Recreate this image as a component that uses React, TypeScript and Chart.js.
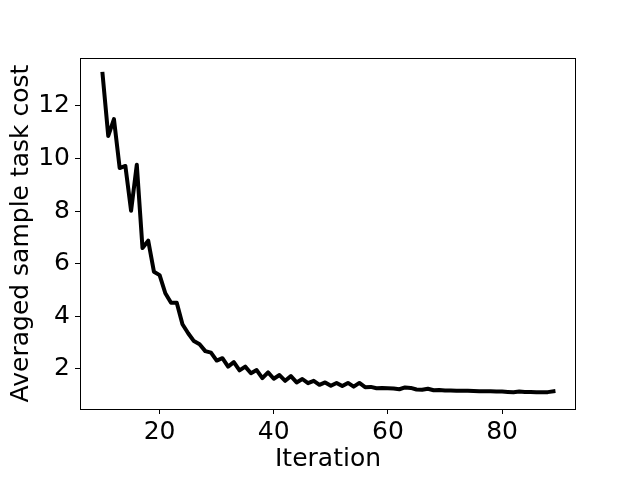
import React, { useEffect, useRef } from "react";
import { Chart, registerables } from "chart.js";

Chart.register(...registerables);

const iterations = [
  10, 11, 12, 13, 14, 15, 16, 17, 18, 19,
  20, 21, 22, 23, 24, 25, 26, 27, 28, 29,
  30, 31, 32, 33, 34, 35, 36, 37, 38, 39,
  40, 41, 42, 43, 44, 45, 46, 47, 48, 49,
  50, 51, 52, 53, 54, 55, 56, 57, 58, 59,
  60, 61, 62, 63, 64, 65, 66, 67, 68, 69,
  70, 71, 72, 73, 74, 75, 76, 77, 78, 79,
  80, 81, 82, 83, 84, 85, 86, 87, 88, 89,
];

const costs = [
  13.22, 10.86, 11.5, 9.64, 9.72, 8.02, 9.77, 6.6, 6.88, 5.7,
  5.57, 4.88, 4.52, 4.52, 3.7, 3.36, 3.06, 2.94, 2.68, 2.62,
  2.32, 2.41, 2.09, 2.26, 1.95, 2.09, 1.84, 1.96, 1.65, 1.87,
  1.63, 1.77, 1.55, 1.73, 1.49, 1.62, 1.46, 1.55, 1.4, 1.49,
  1.36, 1.47, 1.35, 1.47, 1.33, 1.47, 1.31, 1.32, 1.27, 1.28,
  1.27, 1.26, 1.23, 1.3, 1.28, 1.22, 1.21, 1.25, 1.19, 1.2,
  1.18, 1.18, 1.17, 1.17, 1.17, 1.16, 1.15, 1.15, 1.15, 1.14,
  1.14, 1.13, 1.12, 1.14, 1.13, 1.13, 1.12, 1.12, 1.12, 1.15,
];

const xTickValues = [20, 40, 60, 80];
const yTickValues = [2, 4, 6, 8, 10, 12];

const xLabel = "Iteration";
const yLabel = "Averaged sample task cost";

const FONT = "'DejaVu Sans', sans-serif";
const FONT_SIZE = 25;

const framePlugin = {
  id: "frame",
  afterDatasetsDraw(chart: any) {
    const { ctx, chartArea } = chart;
    ctx.save();
    ctx.strokeStyle = "#000";
    ctx.lineWidth = 1;
    ctx.strokeRect(
      Math.round(chartArea.left) + 0.5,
      Math.round(chartArea.top) + 0.5,
      Math.round(chartArea.right - chartArea.left) - 1,
      Math.round(chartArea.bottom - chartArea.top)
    );
    ctx.restore();
  },
};

export default function App() {
  const canvasRef = useRef<HTMLCanvasElement | null>(null);

  useEffect(() => {
    if (!canvasRef.current) return;
    const data = iterations.map((x, i) => ({ x, y: costs[i] }));
    const chart = new Chart(canvasRef.current, {
      type: "line",
      data: {
        datasets: [
          {
            data,
            borderColor: "#000",
            borderWidth: 4,
            pointRadius: 0,
            tension: 0,
            fill: false,
            borderJoinStyle: "round",
            borderCapStyle: "square",
          },
        ],
      },
      options: {
        animation: false,
        responsive: false,
        devicePixelRatio: 1,
        layout: { padding: { left: 0, top: 58, right: 64, bottom: 0 } },
        plugins: {
          legend: { display: false },
          tooltip: { enabled: false },
        },
        scales: {
          x: {
            type: "linear",
            min: 6.05,
            max: 92.95,
            afterBuildTicks: (scale: any) => {
              scale.ticks = xTickValues.map((v) => ({ value: v }));
            },
            afterFit: (scale: any) => {
              scale.height = 71;
            },
            grid: {
              drawOnChartArea: false,
              drawTicks: true,
              tickLength: 5,
              color: "#000",
            },
            border: { display: false },
            ticks: {
              color: "#000",
              padding: 3,
              maxRotation: 0,
              font: { family: FONT, size: FONT_SIZE },
            },
            title: {
              display: true,
              text: xLabel,
              color: "#000",
              font: { family: FONT, size: FONT_SIZE },
              padding: { top: 0, bottom: 6 },
            },
          },
          y: {
            type: "linear",
            min: 0.479,
            max: 13.825,
            afterBuildTicks: (scale: any) => {
              scale.ticks = yTickValues.map((v) => ({ value: v }));
            },
            afterFit: (scale: any) => {
              scale.width = 80;
            },
            grid: {
              drawOnChartArea: false,
              drawTicks: true,
              tickLength: 5,
              color: "#000",
            },
            border: { display: false },
            ticks: {
              color: "#000",
              padding: 5,
              font: { family: FONT, size: FONT_SIZE },
            },
            title: {
              display: true,
              text: yLabel,
              color: "#000",
              font: { family: FONT, size: FONT_SIZE },
              padding: { top: 6, bottom: 0 },
            },
          },
        },
      },
      plugins: [framePlugin],
    });
    return () => chart.destroy();
  }, []);

  return (
    <div style={{ position: "absolute", left: 0, top: 0, width: 640, height: 480, background: "#fff" }}>
      <canvas ref={canvasRef} width={640} height={480} style={{ display: "block" }} />
    </div>
  );
}
